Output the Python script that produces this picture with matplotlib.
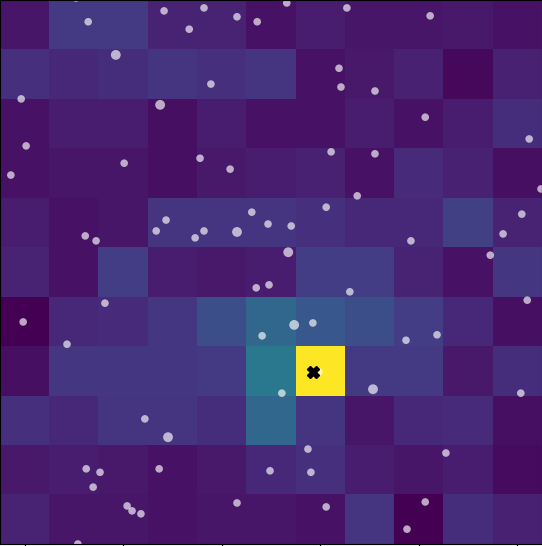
import numpy as np
import matplotlib
matplotlib.use("Agg")
import matplotlib.pyplot as plt

# cell values (row 0 = top)
grid = [
    [0.06, 0.17, 0.17, 0.10, 0.10, 0.05, 0.08, 0.06, 0.06, 0.07, 0.05],
    [0.14, 0.11, 0.13, 0.15, 0.14, 0.15, 0.05, 0.07, 0.09, 0.02, 0.09],
    [0.05, 0.08, 0.08, 0.04, 0.08, 0.05, 0.05, 0.08, 0.05, 0.08, 0.13],
    [0.05, 0.06, 0.06, 0.04, 0.07, 0.08, 0.09, 0.05, 0.12, 0.09, 0.04],
    [0.08, 0.05, 0.06, 0.15, 0.15, 0.15, 0.14, 0.11, 0.11, 0.19, 0.10],
    [0.10, 0.05, 0.18, 0.08, 0.07, 0.08, 0.18, 0.18, 0.10, 0.05, 0.16],
    [0.00, 0.11, 0.12, 0.16, 0.24, 0.33, 0.27, 0.24, 0.18, 0.11, 0.04],
    [0.04, 0.16, 0.16, 0.16, 0.17, 0.40, 1.00, 0.17, 0.17, 0.07, 0.13],
    [0.14, 0.11, 0.15, 0.15, 0.13, 0.33, 0.15, 0.06, 0.11, 0.12, 0.04],
    [0.07, 0.08, 0.07, 0.05, 0.07, 0.11, 0.14, 0.08, 0.06, 0.08, 0.03],
    [0.10, 0.06, 0.06, 0.05, 0.06, 0.06, 0.05, 0.15, 0.00, 0.13, 0.09],
]

# sample points (x = column, y = row)
pts_x = [1.29, 2.83, 3.64, 4.31, 3.34, 4.72, 5.32, 6.54, 8.23, 1.85,
         3.78, -0.07, 2.75, 0.03, -0.28, 2.02, 3.56, 4.17, 4.61, 4.94,
         2.87, 2.67, 3.64, 3.46, 4.31, 1.23, 1.45, 6.38, 6.42, 7.11,
         8.13, 10.24, 6.22, 7.11, 6.75, 10.48, 6.12, 5.41, 10.09, 9.71,
         7.84, 5.35, 9.45, 4.70, 4.96, 1.63, -0.03, 4.82, 0.86, 2.44,
         2.91, 1.25, 1.53, 1.39, 2.73, 4.98, 4.31, 2.08, 2.18, 2.36,
         1.08, 6.60, 10.20, 5.47, 5.85, 7.74, 8.37, 5.97, 5.22, 7.07,
         10.07, 5.75, 8.55, 5.81, 6.12, 8.13, 7.76, 1.04]
pts_y = [-0.06, -0.28, -0.34, -0.16, 0.09, -0.06, -0.44, -0.34, -0.18, 0.61,
         1.20, 1.50, 1.62, 2.45, 3.04, 2.80, 2.70, 2.92, 3.79, 4.03,
         3.95, 4.17, 4.17, 4.31, 4.19, 4.27, 4.37, 0.88, 1.26, 1.34,
         1.87, 2.31, 2.57, 2.61, 3.46, 3.32, 3.69, 4.07, 3.83, 4.23,
         4.37, 4.60, 4.66, 5.32, 5.26, 5.63, 6.01, 6.29, 6.46, 7.97,
         8.34, 8.98, 9.05, 9.35, 8.98, 9.02, 9.67, 9.73, 9.83, 9.89,
         10.50, 5.40, 5.57, 6.07, 6.03, 6.38, 6.27, 7.02, 7.45, 7.37,
         7.45, 8.58, 8.66, 9.05, 9.75, 9.65, 10.20, -0.54]
big = [9, 12, 24, 41, 50, 63, 69]

target_x = 5.85
target_y = 7.02

fig = plt.figure(figsize=(5.42, 5.46), dpi=100)
ax = fig.add_axes([0, 2 / 546, 1, 544 / 546])

ax.imshow(np.array(grid), cmap="viridis", vmin=0, vmax=1,
          aspect="auto", interpolation="nearest")

sizes = [50 if i in big else 30 for i in range(len(pts_x))]
ax.scatter(pts_x, pts_y, s=sizes, c="white", alpha=0.65, linewidths=0)
ax.plot(target_x, target_y, marker="X", color="black", markersize=8,
        linestyle="none")

ax.set_xlim(-0.5, 10.5)
ax.set_ylim(10.5, -0.5)
ax.set_xticks([0, 2, 4, 6, 8, 10])
# labels sit below the visible area in the original, so leave them off
ax.tick_params(labelbottom=False, labelleft=False)

fig.savefig("out.png", dpi=100)
